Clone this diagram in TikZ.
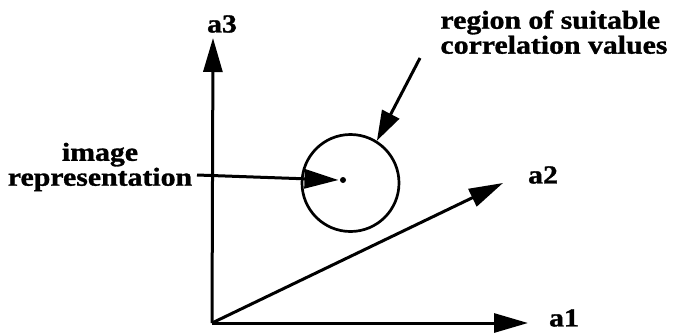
\documentclass[tikz,border=0pt]{standalone}
\usepackage{fontspec}
\setmainfont{Liberation Serif}[FakeStretch=1.15, BoldFeatures={FakeBold=1.2}]
\usetikzlibrary{arrows.meta}

\begin{document}
\begin{tikzpicture}[x=1bp,y=-1bp,line width=3bp,
    axis/.style={-{Triangle[length=34bp,width=19bp]}},
    lbl/.style={font=\fontsize{26}{25}\selectfont\bfseries, inner sep=0pt}]
  \useasboundingbox (0,0) rectangle (675,334);
  % axes
  \coordinate (O) at (212,323);
  \coordinate (a1tip) at (528,323);
  \coordinate (a2tip) at (503,183);
  \coordinate (a3tip) at (213,38);
  \draw[axis] (O) -- (a1tip);
  \draw[axis] (O) -- (a2tip);
  \draw[axis] (O) -- (a3tip);
  \node[lbl] (a1) at (564,318) {a1};
  \node[lbl] (a2) at (543,175) {a2};
  \node[lbl] (a3) at (222,24) {a3};
  % region and image point
  \node[draw, circle, minimum size=97bp, line width=2.7bp] (region) at (350.5,183) {};
  \node[fill, circle, inner sep=0pt, minimum size=6bp] (img) at (343,180) {};
  \node[lbl, align=center] (imglbl) at (100,167) {image\\representation};
  \node[lbl, align=left, anchor=north west] (reglbl) at (439,9) {region of suitable\\correlation values};
  \coordinate (imgstart) at (197,175);
  \coordinate (regstart) at (420,58);
  \draw[axis] (imgstart) -- (img.west);
  \draw[-{Triangle[length=30bp,width=19bp]}] (regstart) -- (region.58);
\end{tikzpicture}
\end{document}
